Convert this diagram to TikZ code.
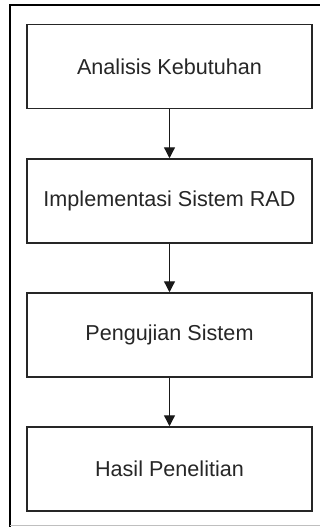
\documentclass[tikz,border=0pt]{standalone}
\usepackage{fontspec}
\setmainfont{Liberation Sans}
\usetikzlibrary{arrows.meta}
\begin{document}
\begin{tikzpicture}[x=1pt,y=-1pt,
  stepbox/.style={draw=black!85, line width=1.5pt, minimum width=285pt, minimum height=84pt, inner sep=0pt, font=\fontsize{21.6}{24}\selectfont, text=black!85},
  flow/.style={draw=black!90, line width=1.3pt, -{Triangle[width=11pt,length=11pt]}}]
\useasboundingbox (0,0) rectangle (320,527);
\draw[line width=2.5pt, black] (10,527) -- (10,5) -- (321,5);
\draw[line width=1pt, black!25] (10,525) -- (321,525);
\node[stepbox] (a) at (169.5,66.5) {Analisis Kebutuhan};
\node[stepbox] (b) at (169.5,201) {Implementasi Sistem RAD};
\node[stepbox] (c) at (169.5,335) {Pengujian Sistem};
\node[stepbox] (d) at (169.5,469) {Hasil Penelitian};
\draw[flow] (a) -- (b);
\draw[flow] (b) -- (c);
\draw[flow] (c) -- (d);
\end{tikzpicture}
\end{document}
